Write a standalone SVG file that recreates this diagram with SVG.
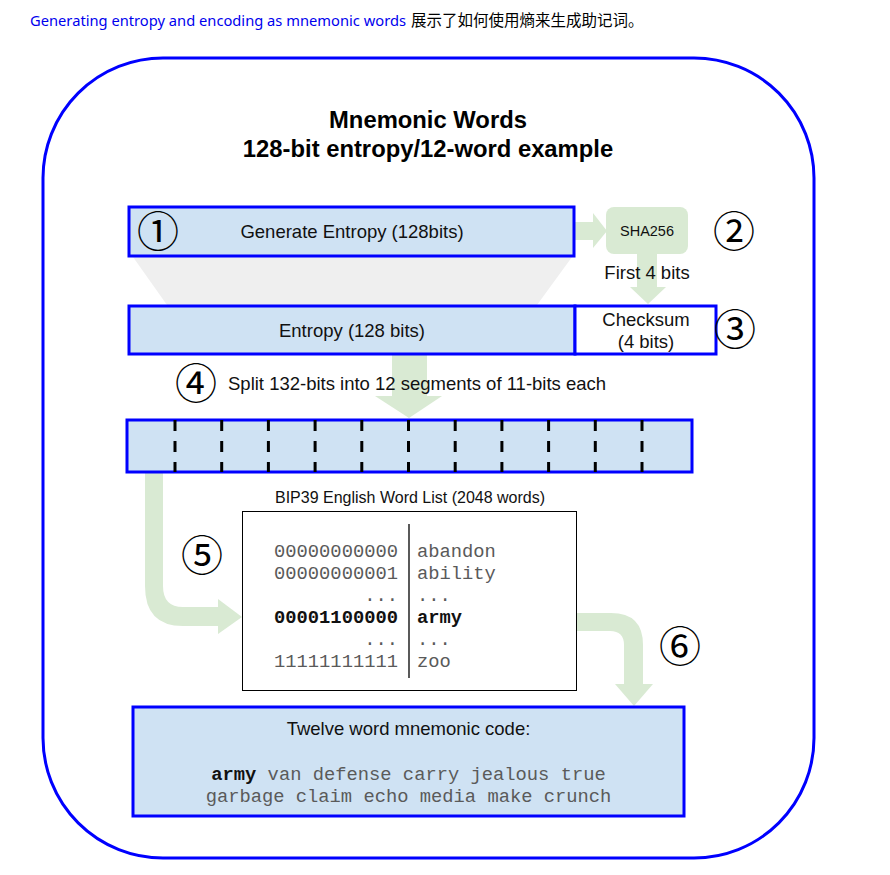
<svg xmlns="http://www.w3.org/2000/svg" width="890" height="875" viewBox="0 0 890 875">
<style>
.box{fill:#cfe2f3;stroke:#0000ff;stroke-width:3}
.t{font-family:"Liberation Sans",Arial,sans-serif;font-size:18.5px;fill:#111;text-anchor:middle}
.ttl{font-family:"Liberation Sans",Arial,sans-serif;font-size:23.8px;font-weight:bold;fill:#000;text-anchor:middle}
.num{font-family:"Noto Sans CJK JP","DejaVu Sans",sans-serif;font-size:42px;fill:#000;text-anchor:middle}
.mono{font-family:"Liberation Mono","Courier New",monospace;font-size:18.8px;fill:#5a5a5a}
.b{font-weight:bold;fill:#111}
.arr{fill:#d9ead3}
.div{stroke:#000;stroke-width:3;stroke-dasharray:11 10}
</style>
<rect width="890" height="875" fill="#fff"/>
<text x="30" y="26" font-family="'Noto Sans','Noto Sans CJK SC',sans-serif" font-size="15px"><tspan fill="#0000ee" textLength="376" lengthAdjust="spacingAndGlyphs">Generating entropy and encoding as mnemonic words</tspan><tspan x="411" fill="#000" font-family="'Noto Sans CJK SC',sans-serif" font-size="15.5px">展示了如何使用熵来生成助记词。</tspan></text>
<rect id="frame" x="43" y="58" width="771" height="800" rx="120" ry="120" fill="#fff" stroke="#0000ff" stroke-width="3"/>
<g id="title">
<text class="ttl" x="428" y="128">Mnemonic Words</text>
<text class="ttl" x="428" y="157">128-bit entropy/12-word example</text>
</g>
<polygon id="funnel" points="133,257 572,257 537,305 167,305" fill="#efefef"/>
<g id="connectors">
<path class="arr" d="M574,222 L593,222 L593,213 L607,231 L593,248 L593,240 L574,240 Z"/>
<path class="arr" d="M637,254 L637,287 L630,287 L648,304 L666,287 L657,287 L657,254 Z"/>
<path class="arr" d="M392,354 L392,396 L375,396 L409,418 L442,396 L427,396 L427,354 Z"/>
<path class="arr" d="M145,473 L145,586 Q145,626 183,626 L218,626 L218,634 L242,617 L218,599 L218,607 L183,607 Q163,607 163,586 L163,473 Z"/>
<path class="arr" d="M576,613 L611,613 Q643,613 643,645 L643,684 L653,684 L634,706 L615,684 L624,684 L624,645 Q624,631 610,631 L576,631 Z"/>
</g>
<g id="n1">
<rect class="box" x="129" y="207" width="445" height="49"/>
<text class="num" x="158" y="247">①</text>
<text class="t" x="352" y="238">Generate Entropy (128bits)</text>
</g>
<g id="n2">
<rect x="606" y="207" width="82" height="47" rx="8" ry="8" fill="#d9ead3"/>
<text class="t" x="647" y="236" style="font-size:14.5px">SHA256</text>
<text class="num" x="734" y="247">②</text>
</g>
<text class="t" x="647" y="279">First 4 bits</text>
<g id="n3">
<rect class="box" x="129" y="306" width="446" height="48"/>
<text class="t" x="352" y="337">Entropy (128 bits)</text>
<rect x="575" y="306" width="141" height="48" fill="#fff" stroke="#0000ff" stroke-width="3"/>
<text class="t" x="646" y="326">Checksum</text>
<text class="t" x="646" y="348">(4 bits)</text>
<text class="num" x="735" y="345">③</text>
</g>
<g id="n4">
<text class="num" x="196" y="399">④</text>
<text class="t" x="228" y="390" style="text-anchor:start">Split 132-bits into 12 segments of 11-bits each</text>
<rect class="box" x="127" y="420" width="565" height="52"/>
<g class="div">
<line x1="175" y1="420" x2="175" y2="472"/>
<line x1="221.7" y1="420" x2="221.7" y2="472"/>
<line x1="268.4" y1="420" x2="268.4" y2="472"/>
<line x1="315.1" y1="420" x2="315.1" y2="472"/>
<line x1="361.8" y1="420" x2="361.8" y2="472"/>
<line x1="408.5" y1="420" x2="408.5" y2="472"/>
<line x1="455.2" y1="420" x2="455.2" y2="472"/>
<line x1="501.9" y1="420" x2="501.9" y2="472"/>
<line x1="548.6" y1="420" x2="548.6" y2="472"/>
<line x1="595.3" y1="420" x2="595.3" y2="472"/>
<line x1="642" y1="420" x2="642" y2="472"/>
</g>
</g>
<g id="n5">
<text class="num" x="202" y="571">⑤</text>
<text class="t" x="410" y="503" style="font-size:16px">BIP39 English Word List (2048 words)</text>
<rect x="242.5" y="511.5" width="334" height="179" fill="#fff" stroke="#000" stroke-width="1"/>
<line x1="409" y1="524" x2="409" y2="678" stroke="#000" stroke-width="1.3"/>
<g class="mono" text-anchor="end">
<text x="398" y="557">00000000000</text>
<text x="398" y="579">00000000001</text>
<text x="398" y="601">...</text>
<text x="398" y="623" class="b">00001100000</text>
<text x="398" y="645">...</text>
<text x="398" y="667">11111111111</text>
</g>
<g class="mono">
<text x="417" y="557">abandon</text>
<text x="417" y="579">ability</text>
<text x="417" y="601">...</text>
<text x="417" y="623" class="b">army</text>
<text x="417" y="645">...</text>
<text x="417" y="667">zoo</text>
</g>
</g>
<text class="num" x="680" y="662">⑥</text>
<g id="n6">
<rect class="box" x="133" y="707" width="551" height="109"/>
<text class="t" x="408.5" y="735">Twelve word mnemonic code:</text>
<text class="mono" x="408.5" y="780" text-anchor="middle"><tspan class="b">army</tspan> van defense carry jealous true</text>
<text class="mono" x="408.5" y="802" text-anchor="middle">garbage claim echo media make crunch</text>
</g>
</svg>
